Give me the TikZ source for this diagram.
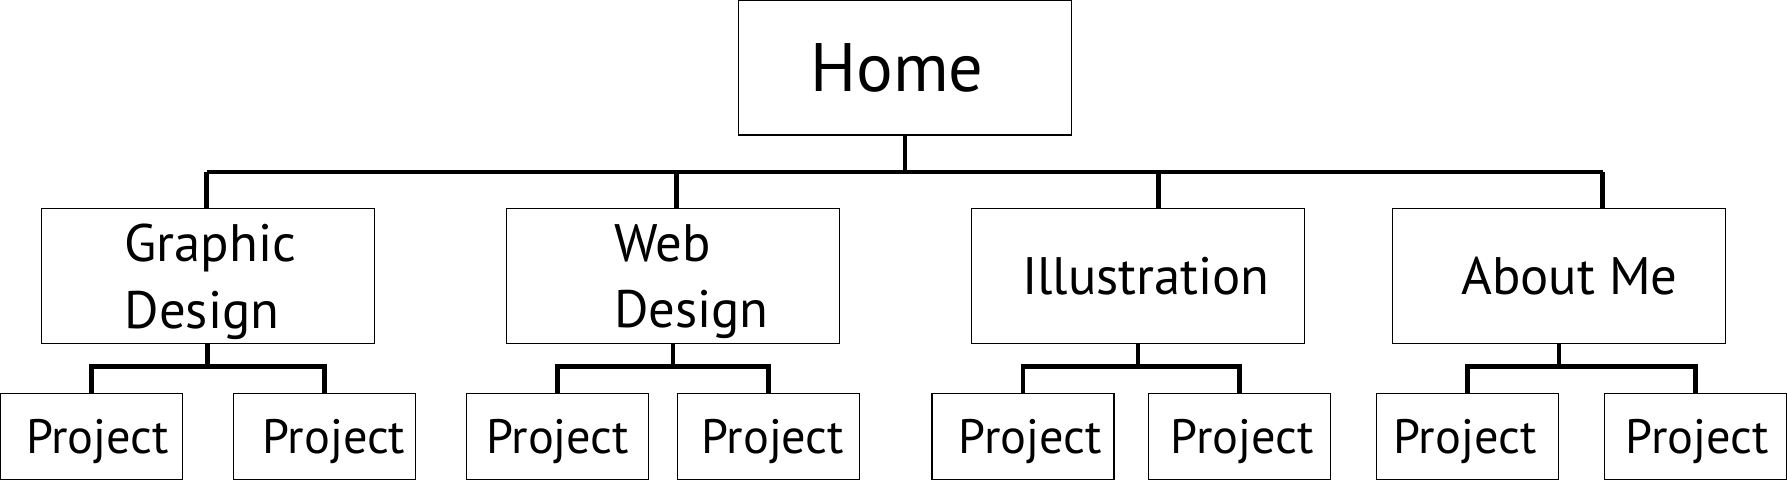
\documentclass[tikz,border=0pt]{standalone}
\usepackage{fontspec}
\setmainfont{PT Sans}
\usetikzlibrary{calc}
\tikzstyle{page}=[rectangle,draw=black,line width=0.6pt,inner sep=0pt,
  minimum width=6.66cm,minimum height=2.69cm,
  font=\fontsize{30}{38}\selectfont,text depth=0pt]
\tikzstyle{one}=[page,text height=21pt]
\tikzstyle{two}=[page,align=left]
\tikzstyle{top}=[page,font=\fontsize{39}{47}\selectfont,text height=27.3pt]
\tikzstyle{pn}=[rectangle,draw=black,line width=0.6pt,inner sep=0pt,
  minimum width=3.64cm,minimum height=1.72cm,
  font=\fontsize{27.5}{33}\selectfont,text height=19.25pt,text depth=0pt]
\tikzstyle{link}=[line width=2.7pt]
\tikzstyle{none}=[]

\begin{document}
\begin{tikzpicture}
		\useasboundingbox (0, 0) rectangle (35.74, -9.6);
		\node [style=top] (0) at (18.1, -1.355) {Home\kern9pt};
		\node [style=two] (1) at (4.156, -5.52) {\kern3pt Graphic\\\kern3pt Design};
		\node [style=two] (2) at (13.46, -5.52) {\kern21pt Web\\\kern21pt Design};
		\node [style=one] (3) at (22.76, -5.52) {\kern9pt Illustration};
		\node [style=one] (4) at (31.18, -5.52) {\kern12pt About Me};
		\node [style=pn] (5) at (1.826, -8.726) {\kern7pt Project};
		\node [style=pn] (6) at (6.486, -8.726) {\kern11pt Project};
		\node [style=pn] (7) at (11.152, -8.726) {Project};
		\node [style=pn] (8) at (15.366, -8.726) {\kern5pt Project};
		\node [style=pn] (9) at (20.46, -8.726) {\kern8pt Project};
		\node [style=pn] (10) at (24.79, -8.726) {\kern3pt Project};
		\node [style=pn] (11) at (29.352, -8.726) {Project\kern3pt};
		\node [style=pn] (12) at (33.91, -8.726) {\kern2pt Project};
		\coordinate (13) at (4.132, -3.44);
		\coordinate (14) at (13.524, -3.44);
		\coordinate (15) at (23.17, -3.44);
		\coordinate (16) at (32.056, -3.44);
		\draw [style=link] (0.south) to (0.south |- 13);
		\draw [style=link] (13) to (16);
		\draw [style=link] (13) to (13 |- 1.north);
		\draw [style=link] (14) to (14 |- 2.north);
		\draw [style=link] (15) to (15 |- 3.north);
		\draw [style=link] (16) to (16 |- 4.north);
		\draw [style=link] (1.south) -- ++(0, -0.45) -| (5.north);
		\draw [style=link] (1.south) -- ++(0, -0.45) -| (6.north);
		\draw [style=link] (2.south) -- ++(0, -0.45) -| (7.north);
		\draw [style=link] (2.south) -- ++(0, -0.45) -| (8.north);
		\draw [style=link] (3.south) -- ++(0, -0.45) -| (9.north);
		\draw [style=link] (3.south) -- ++(0, -0.45) -| (10.north);
		\draw [style=link] (4.south) -- ++(0, -0.45) -| (11.north);
		\draw [style=link] (4.south) -- ++(0, -0.45) -| (12.north);
\end{tikzpicture}
\end{document}
